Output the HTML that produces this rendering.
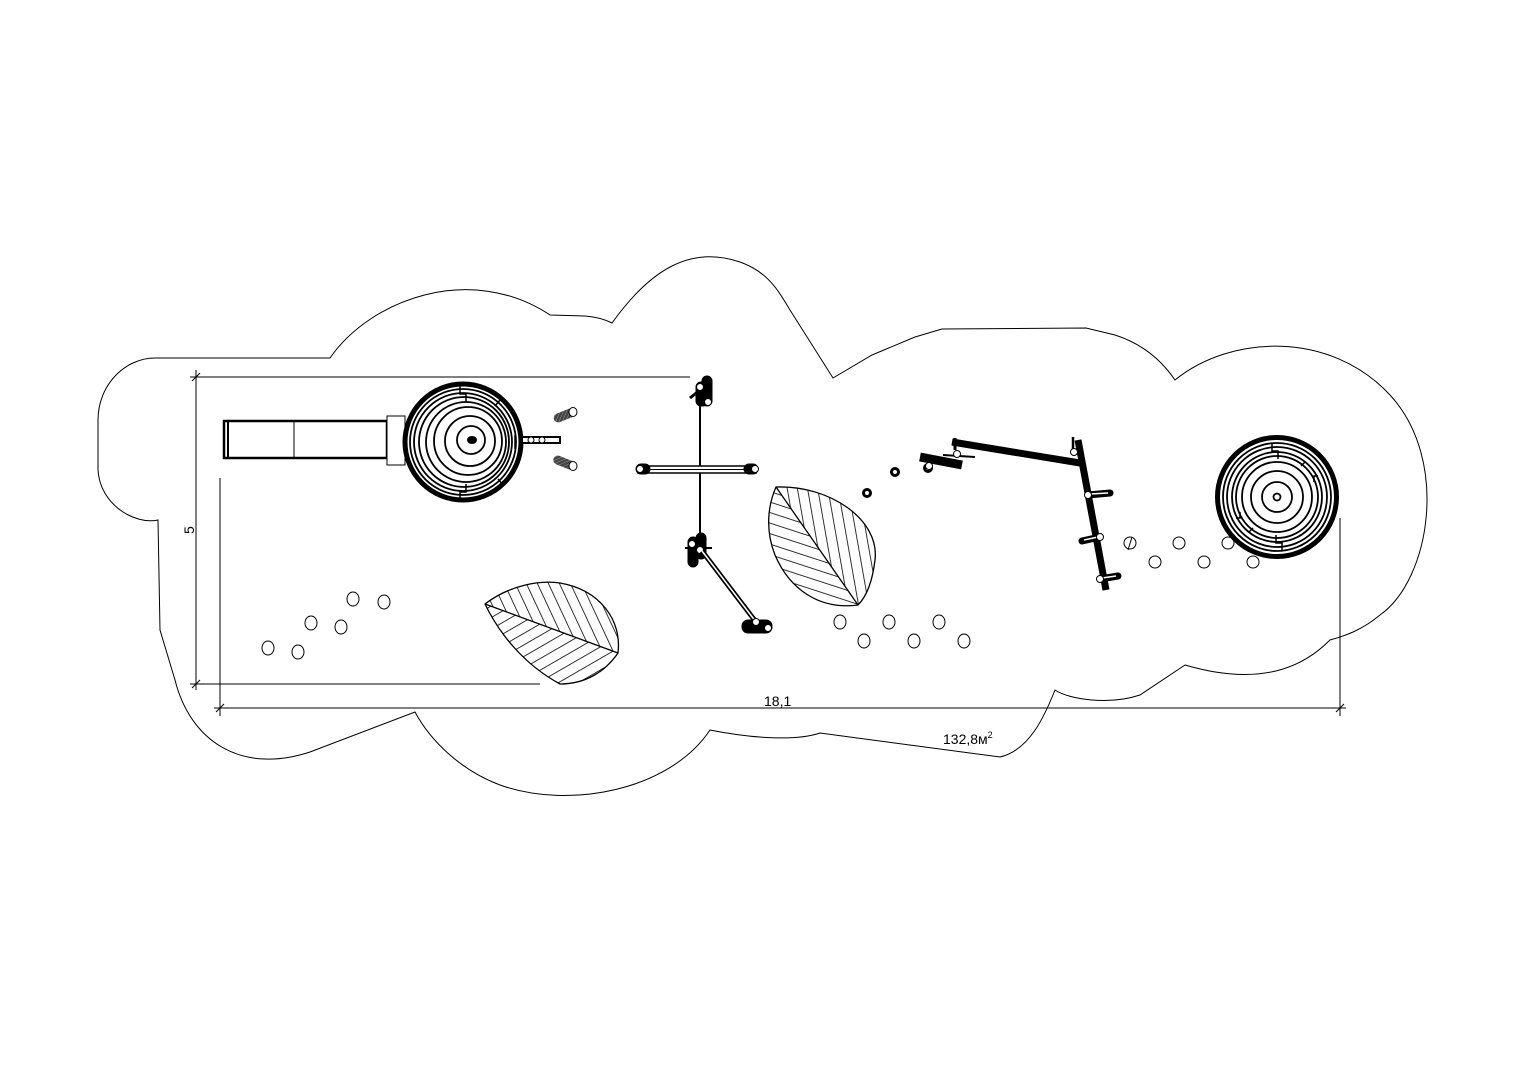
<!DOCTYPE html>
<html><head><meta charset="utf-8"><style>
html,body{margin:0;padding:0;background:#fff;}
svg{display:block;}
text{font-family:"Liberation Sans",sans-serif;fill:#000;}
</style></head><body>
<svg width="1528" height="1081" viewBox="0 0 1528 1081" xmlns="http://www.w3.org/2000/svg">
<defs>
<pattern id="h1" width="10" height="10" patternUnits="userSpaceOnUse" patternTransform="rotate(-25)"><line x1="0" y1="0" x2="0" y2="10" stroke="#000" stroke-width="1.6"/></pattern>
<pattern id="h2" width="10" height="10" patternUnits="userSpaceOnUse" patternTransform="rotate(60)"><line x1="0" y1="0" x2="0" y2="10" stroke="#000" stroke-width="1.6"/></pattern>
<pattern id="h3" width="10" height="10" patternUnits="userSpaceOnUse" patternTransform="rotate(-10)"><line x1="0" y1="0" x2="0" y2="10" stroke="#000" stroke-width="1.6"/></pattern>
<pattern id="h4" width="10" height="10" patternUnits="userSpaceOnUse" patternTransform="rotate(-72)"><line x1="0" y1="0" x2="0" y2="10" stroke="#000" stroke-width="1.6"/></pattern>
<pattern id="gr" width="3" height="3" patternUnits="userSpaceOnUse" patternTransform="rotate(45)"><rect width="3" height="3" fill="#444"/><line x1="0" y1="0" x2="0" y2="3" stroke="#999" stroke-width="1"/></pattern>
</defs>
<g fill="none" stroke="#000" stroke-width="1">
<path d="M330,358 C370,300 470,262 550,315 L585,316 C598,317 606,320 612,323 C650,270 690,245 740,262 C768,272 778,290 790,310 L833,378 L872,355 L915,337 L942,329 L1086,328 L1115,335 C1140,343 1160,358 1175,380 C1230,335 1330,330 1390,395 C1450,460 1430,580 1380,615 C1362,630 1345,636 1330,640 C1310,660 1270,690 1185,665 L1140,695 C1110,705 1070,700 1055,690 C1045,715 1030,750 1000,757 L820,733 C800,740 760,740 710,730 C670,790 570,810 500,785 C460,770 430,740 415,712 L310,752 C240,775 190,740 175,680 L160,630 L158,520 C135,525 100,505 98,470 L98,420 C98,385 125,358 155,358 Z"/>
<line x1="190" y1="377" x2="690" y2="377"/>
<line x1="190" y1="684" x2="540" y2="684"/>
<line x1="196" y1="370" x2="196" y2="690"/>
<line x1="192" y1="381" x2="200" y2="373"/><line x1="192" y1="688" x2="200" y2="680"/>
<line x1="220" y1="478" x2="220" y2="716"/>
<line x1="1340" y1="518" x2="1340" y2="716"/>
<line x1="214" y1="708" x2="1346" y2="708"/>
<line x1="216" y1="712" x2="224" y2="704"/><line x1="1336" y1="712" x2="1344" y2="704"/>
</g>
<text x="764" y="706" font-size="14">18,1</text>
<text x="943" y="744" font-size="14">132,8м<tspan font-size="9" dy="-6">2</tspan></text>
<text x="0" y="0" font-size="14" transform="translate(194,534) rotate(-90)">5</text>

<g fill="none" stroke="#000">
<rect x="224" y="421" width="163" height="37" stroke-width="2.5"/>
<line x1="228" y1="421" x2="228" y2="458" stroke-width="2"/>
<line x1="294" y1="421" x2="294" y2="458" stroke-width="1"/>
<rect x="387" y="416" width="18" height="49" stroke-width="1" fill="#fff"/>
</g>
<g fill="none" stroke="#000">
<circle cx="463" cy="442" r="58" stroke-width="5"/>
<circle cx="463" cy="442" r="53" stroke-width="1.8"/>
<circle cx="463" cy="442" r="49" stroke-width="1.8"/>
<circle cx="464" cy="442" r="45" stroke-width="1.8"/>
<circle cx="466" cy="442" r="40" stroke-width="1.8"/>
<circle cx="468" cy="441" r="34" stroke-width="1.8"/>
<circle cx="470" cy="441" r="25" stroke-width="1.8"/>
<circle cx="471" cy="440" r="14" stroke-width="1.8"/>
<path d="M460,386 v8 h6 v8 M500,400 l-5,6 M503,485 l-5,-6 M460,500 v-8 h6 v-8 M515,435 v14" stroke-width="1.5"/>
</g>
<ellipse cx="472" cy="440" rx="5" ry="4" fill="#000"/>
<rect x="522" y="437" width="38" height="6" fill="#fff" stroke="#000" stroke-width="2"/>
<g fill="#fff" stroke="#000"><circle cx="531" cy="440" r="3"/><circle cx="542" cy="440" r="3"/></g>
<g><rect x="553" y="411" width="22" height="9" rx="4.5" fill="url(#gr)" transform="rotate(-22 564 415)"/><ellipse cx="573" cy="412" rx="4" ry="4.5" fill="#fff" stroke="#000"/>
<rect x="553" y="458" width="22" height="9" rx="4.5" fill="url(#gr)" transform="rotate(22 564 462)"/><ellipse cx="573" cy="466" rx="4" ry="4.5" fill="#fff" stroke="#000"/></g>

<g stroke="#000">
<line x1="700" y1="395" x2="700" y2="545" stroke-width="2"/>
<rect x="638" y="466" width="118" height="7" fill="#fff" stroke-width="1.5"/>
<line x1="640" y1="469.5" x2="754" y2="469.5" stroke-width="1"/>
<rect x="636" y="464" width="14" height="10" rx="5" fill="#000"/><rect x="744" y="464" width="14" height="10" rx="5" fill="#000"/>
<circle cx="640" cy="469" r="3.5" fill="#fff"/><circle cx="755" cy="469" r="3.5" fill="#fff"/>
<rect x="702" y="376" width="10" height="30" rx="5" fill="#000"/>
<rect x="696" y="382" width="12" height="24" rx="5" fill="#000"/>
<line x1="690" y1="398" x2="700" y2="390" stroke-width="3"/>
<circle cx="700" cy="387" r="3.5" fill="#fff"/><circle cx="708" cy="402" r="3.5" fill="#fff"/>
<rect x="696" y="533" width="10" height="26" rx="5" fill="#000"/>
<rect x="688" y="537" width="10" height="30" rx="5" fill="#000"/>
<line x1="685" y1="548" x2="712" y2="548" stroke-width="2"/>
<circle cx="692" cy="544" r="3.5" fill="#fff"/><circle cx="700" cy="550" r="3.5" fill="#fff"/>
<line x1="702" y1="551" x2="756" y2="622" stroke-width="5"/>
<line x1="702" y1="551" x2="756" y2="622" stroke="#fff" stroke-width="1.5"/>
<rect x="742" y="620" width="30" height="13" rx="6" fill="#000"/>
<circle cx="756" cy="622" r="3.5" fill="#fff"/><circle cx="768" cy="628" r="3.5" fill="#fff"/>
</g>

<!-- leaf 1 -->
<g>
<path d="M485,604 C510,585 540,580 560,583 C600,590 622,620 618,653 Z" fill="url(#h1)"/>
<path d="M485,604 L618,653 C605,672 585,684 560,684 C525,665 500,635 485,604 Z" fill="url(#h2)"/>
<path d="M485,604 C510,585 540,580 560,583 C600,590 622,620 618,653 C605,672 585,684 560,684 C525,665 500,635 485,604 Z M485,604 L618,653" fill="none" stroke="#000" stroke-width="1.3"/>
</g>
<!-- leaf 2 -->
<g>
<path d="M776,487 C830,485 880,520 875,560 C872,585 865,598 858,605 Z" fill="url(#h3)"/>
<path d="M776,487 L858,605 C820,610 790,590 775,555 C765,530 768,505 776,487 Z" fill="url(#h4)"/>
<path d="M776,487 C830,485 880,520 875,560 C872,585 865,598 858,605 C820,610 790,590 775,555 C765,530 768,505 776,487 Z M776,487 L858,605" fill="none" stroke="#000" stroke-width="1.3"/>
</g>

<g fill="#fff" stroke="#000" stroke-width="3">
<circle cx="867" cy="493" r="3.5"/><circle cx="895" cy="472" r="3.5"/><circle cx="928" cy="468" r="3.5"/>
</g>
<g stroke="#000">
<line x1="952" y1="442" x2="1080" y2="463" stroke-width="7"/>
<line x1="1078" y1="440" x2="1106" y2="590" stroke-width="7"/>
<line x1="1073" y1="437" x2="1073" y2="455" stroke-width="2.5"/>
<line x1="955" y1="438" x2="955" y2="450" stroke-width="3"/>
<line x1="920" y1="457" x2="962" y2="465" stroke-width="9"/>
<line x1="943" y1="455" x2="975" y2="457" stroke-width="2"/>
<line x1="1088" y1="495" x2="1110" y2="493" stroke-width="7" stroke-linecap="round"/>
<line x1="1082" y1="541" x2="1100" y2="537" stroke-width="7" stroke-linecap="round"/>
<line x1="1100" y1="579" x2="1118" y2="576" stroke-width="7" stroke-linecap="round"/>
<line x1="1090" y1="494" x2="1108" y2="493" stroke="#fff" stroke-width="1.5"/>
<line x1="1084" y1="540" x2="1098" y2="537" stroke="#fff" stroke-width="1.5"/>
<line x1="1102" y1="578" x2="1116" y2="576" stroke="#fff" stroke-width="1.5"/>
<g fill="#fff" stroke-width="1">
<circle cx="957" cy="454" r="3.5"/><circle cx="929" cy="466" r="3.5"/><circle cx="1074" cy="452" r="3.5"/>
<circle cx="1088" cy="495" r="3.5"/><circle cx="1100" cy="537" r="3.5"/><circle cx="1100" cy="579" r="3.5"/>
</g>
</g>

<g fill="none" stroke="#000">
<circle cx="1277" cy="497" r="59.5" stroke-width="5"/>
<circle cx="1277" cy="497" r="54" stroke-width="1.8"/>
<circle cx="1277" cy="497" r="50" stroke-width="1.8"/>
<circle cx="1277" cy="497" r="45" stroke-width="1.8"/>
<circle cx="1277" cy="497" r="41" stroke-width="1.8"/>
<circle cx="1277" cy="497" r="35" stroke-width="1.8"/>
<circle cx="1277" cy="497" r="26" stroke-width="1.8"/>
<circle cx="1277" cy="497" r="15" stroke-width="1.8"/>
<circle cx="1277" cy="497" r="3.5" stroke-width="1.8"/>
<path d="M1272,443 v8 h6 v8 M1282,551 v-8 h-6 v-8 M1318,476 h-4 v6 M1236,518 h4 v-6 M1305,462 l-4,4 M1249,532 l4,-4" stroke-width="1.5"/>
</g>

<g fill="none" stroke="#000" stroke-width="1">
<ellipse cx="268" cy="648" rx="6" ry="7"/><ellipse cx="298" cy="652" rx="6" ry="7"/>
<ellipse cx="311" cy="623" rx="6" ry="7"/><ellipse cx="341" cy="627" rx="6" ry="7"/>
<ellipse cx="353" cy="599" rx="6" ry="7"/><ellipse cx="384" cy="602" rx="6" ry="7"/>
<ellipse cx="840" cy="622" rx="6" ry="7"/><ellipse cx="864" cy="641" rx="6" ry="7"/>
<ellipse cx="889" cy="622" rx="6" ry="7"/><ellipse cx="914" cy="641" rx="6" ry="7"/>
<ellipse cx="939" cy="622" rx="6" ry="7"/><ellipse cx="964" cy="641" rx="6" ry="7"/>
<ellipse cx="1130" cy="543" rx="6" ry="6"/><line x1="1128" y1="550" x2="1132" y2="537"/>
<ellipse cx="1155" cy="562" rx="6" ry="6"/><ellipse cx="1179" cy="543" rx="6" ry="6"/>
<ellipse cx="1204" cy="562" rx="6" ry="6"/><ellipse cx="1228" cy="543" rx="6" ry="6"/>
<ellipse cx="1253" cy="562" rx="6" ry="6"/>
</g>
</svg>
</body></html>
